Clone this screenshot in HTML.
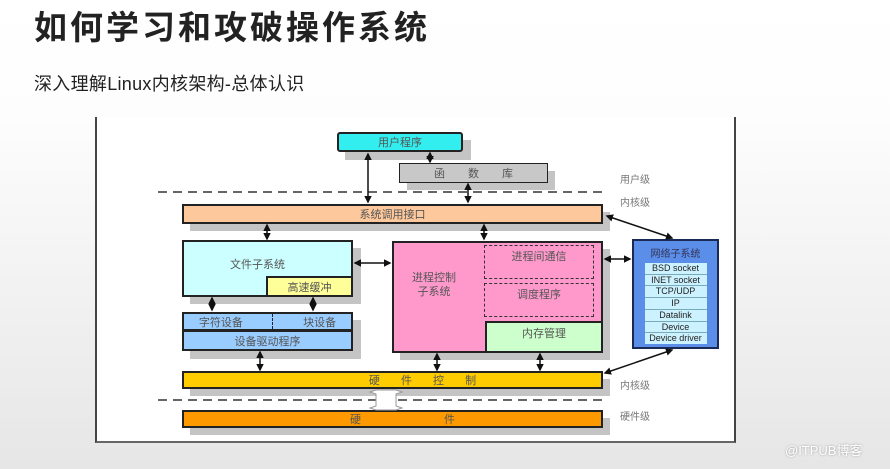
<!DOCTYPE html>
<html><head><meta charset="utf-8"><style>
body{margin:0;width:890px;height:469px;overflow:hidden;background:linear-gradient(#fff 0%,#fdfdfd 25%,#e6e6e6 100%);font-family:"Liberation Sans","Noto Sans CJK SC",sans-serif;position:relative}
.a{position:absolute;box-sizing:border-box}
.b{border:2px solid #222;display:flex;align-items:center;justify-content:center;font-size:11px;color:#555}
.s{position:absolute;background:#c4c4c4}
.lbl{position:absolute;font-size:10px;color:#777}
</style></head><body>
<div class="a" style="left:34px;top:1px;font-size:33px;font-weight:bold;color:#222;letter-spacing:3px">如何学习和攻破操作系统</div>
<div class="a" style="left:34px;top:70px;font-size:18px;color:#222;letter-spacing:0.3px">深入理解Linux内核架构-总体认识</div>
<div class="a" style="left:95px;top:117px;width:641px;height:326px;background:#fff;border-left:2px solid #444;border-right:2px solid #444;border-bottom:2px solid #666"></div>

<!-- shadows -->
<div class="s" style="left:345px;top:140px;width:126px;height:20px"></div>
<div class="s" style="left:407px;top:171px;width:148px;height:19px"></div>
<div class="s" style="left:190px;top:212px;width:420px;height:19px"></div>
<div class="s" style="left:190px;top:248px;width:171px;height:56px"></div>
<div class="s" style="left:190px;top:320px;width:171px;height:39px"></div>
<div class="s" style="left:400px;top:249px;width:210px;height:111px"></div>
<div class="s" style="left:190px;top:379px;width:420px;height:17px"></div>
<div class="s" style="left:190px;top:418px;width:420px;height:17px"></div>

<div class="a b" style="left:337px;top:132px;width:126px;height:20px;background:#33eeee;border-radius:3px">用户程序</div>
<div class="a b" style="left:399px;top:163px;width:149px;height:20px;background:#c8c8c8;border-width:1px;word-spacing:20px">函 数 库</div>
<div class="a b" style="left:182px;top:204px;width:421px;height:20px;background:#fdc89b">系统调用接口</div>
<div class="a b" style="left:182px;top:240px;width:171px;height:57px;background:#ccffff;align-items:flex-start;padding-top:14px;padding-right:20px">文件子系统</div>
<div class="a b" style="left:266px;top:276px;width:87px;height:21px;background:#ffff99">高速缓冲</div>
<div class="a b" style="left:182px;top:312px;width:171px;height:19px;background:#99ccff;justify-content:space-around">字符设备<span style="border-left:1px dashed #223;height:15px"></span>块设备</div>
<div class="a b" style="left:182px;top:330px;width:171px;height:21px;background:#99ccff">设备驱动程序</div>
<div class="a b" style="left:392px;top:241px;width:211px;height:112px;background:#ff99cc;align-items:flex-start;justify-content:flex-start;padding:28px 0 0 18px;line-height:14px;text-align:center">进程控制<br>子系统</div>
<div class="a b" style="left:484px;top:245px;width:110px;height:34px;border:1px dashed #333;align-items:flex-start;padding-top:2px">进程间通信</div>
<div class="a b" style="left:484px;top:283px;width:110px;height:34px;border:1px dashed #333;align-items:flex-start;padding-top:2px">调度程序</div>
<div class="a b" style="left:485px;top:321px;width:118px;height:32px;background:#ccffcc;align-items:flex-start;padding-top:2px">内存管理</div>

<div class="a b" style="left:632px;top:239px;width:87px;height:110px;background:#5b8ee8;border-color:#1a2a55;flex-direction:column;justify-content:flex-start;padding-top:4px;font-size:10px;color:#335">网络子系统
<div style="margin-top:3px;width:62px;background:#ccf2ff;font-size:9px;color:#222;line-height:10.7px;text-align:center">
<div style="border-bottom:1px solid #7ab">BSD socket</div><div style="border-bottom:1px solid #7ab">INET socket</div><div style="border-bottom:1px solid #7ab">TCP/UDP</div><div style="border-bottom:1px solid #7ab">IP</div><div style="border-bottom:1px solid #7ab">Datalink</div><div style="border-bottom:1px solid #7ab">Device</div><div>Device driver</div></div></div>

<div class="a b" style="left:182px;top:371px;width:421px;height:18px;background:#ffcc00;word-spacing:18px;padding-left:60px">硬 件 控 制</div>
<div class="a b" style="left:182px;top:410px;width:421px;height:18px;background:#ff9900;word-spacing:80px;padding-left:20px">硬 件</div>

<div class="lbl" style="left:620px;top:171px">用户级</div>
<div class="lbl" style="left:620px;top:194px">内核级</div>
<div class="lbl" style="left:620px;top:377px">内核级</div>
<div class="lbl" style="left:620px;top:408px">硬件级</div>

<svg class="a" style="left:0;top:0" width="890" height="469">
<defs><marker id="m" markerWidth="5" markerHeight="5" refX="4" refY="2.5" orient="auto-start-reverse"><path d="M0,0L5,2.5L0,5z" fill="#111"/></marker></defs>
<g stroke="#333" stroke-width="1.5" stroke-dasharray="9,6"><line x1="158" y1="192" x2="605" y2="192"/><line x1="158" y1="400" x2="605" y2="400"/></g>
<g stroke="#111" stroke-width="1.5" marker-start="url(#m)" marker-end="url(#m)">
<line x1="368" y1="154" x2="368" y2="202"/>
<line x1="430" y1="153" x2="430" y2="162"/>
<line x1="468" y1="184" x2="468" y2="202"/>
<line x1="267" y1="225" x2="267" y2="239"/>
<line x1="484" y1="225" x2="484" y2="239"/>
<line x1="355" y1="263" x2="390" y2="263"/>
<line x1="212" y1="298" x2="212" y2="310"/>
<line x1="313" y1="298" x2="313" y2="310"/>
<line x1="260" y1="352" x2="260" y2="370"/>
<line x1="437" y1="354" x2="437" y2="370"/>
<line x1="540" y1="354" x2="540" y2="370"/>
<line x1="605" y1="259" x2="630" y2="259"/>
<line x1="607" y1="216" x2="672" y2="238"/>
<line x1="605" y1="373" x2="672" y2="350"/>
</g>
<path d="M370,392 L376,390 L396,390 L402,392 L396,394 V406 L402,408 L396,410 L376,410 L370,408 L376,406 V394Z" fill="#fff" stroke="#999" stroke-width="1"/>
</svg>
<div class="a" style="left:785px;top:440px;font-size:13px;color:#fff;text-shadow:0 0 2px #999">@ITPUB博客</div>
</body></html>
